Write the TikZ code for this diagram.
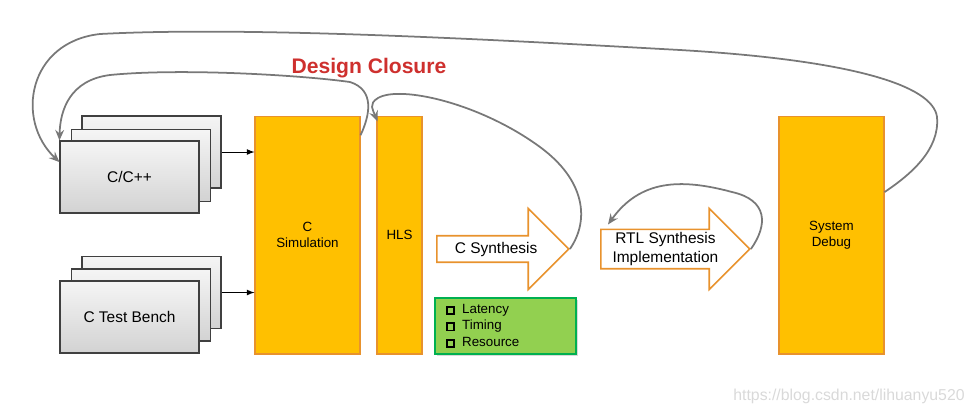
\documentclass[tikz,border=0pt]{standalone}
\usepackage{fontspec}
\setmainfont{Liberation Sans}
\usetikzlibrary{shapes.arrows,arrows.meta,calc,shadows}

\definecolor{hlsorange}{RGB}{255,192,0}
\definecolor{hlsedge}{RGB}{232,146,45}
\definecolor{loopgray}{RGB}{120,120,120}
\definecolor{closurered}{RGB}{206,48,46}
\definecolor{qorgreen}{RGB}{146,208,80}
\definecolor{qoredge}{RGB}{0,176,80}

\newcommand{\sqbox}{{\fboxsep=0pt\fboxrule=1pt\fbox{\rule{0pt}{3.2pt}\hspace{3.2pt}}}}

\begin{document}
\begin{tikzpicture}[x=0.02cm,y=-0.02cm,
    srcbox/.style={draw=black!75,line width=0.6pt,top color=gray!8,bottom color=gray!35,minimum width=2.78cm,minimum height=1.44cm,font=\fontsize{8.8}{10.5}\selectfont},
    stagebox/.style={draw=hlsedge,fill=hlsorange,line width=0.6pt,minimum width=2.1cm,minimum height=4.76cm,align=center,font=\fontsize{7.6}{9}\selectfont},
    flowarrow/.style={single arrow,draw=hlsedge,fill=white,line width=0.9pt,minimum height=2.64cm,minimum width=1.62cm,single arrow head extend=0.4cm,inner sep=1pt,align=center,font=\fontsize{8.8}{10.5}\selectfont},
    feedback/.style={draw=loopgray,line width=1pt,-{Stealth[length=6pt,width=5pt,inset=2pt]}}]
    \useasboundingbox (0,0) rectangle (974,414);
    \node[srcbox] (cppC) at (151.5,152) {};
    \node[srcbox] (cppB) at (141,165.5) {};
    \node[srcbox] (cppA) at (129.5,177) {C/C++};
    \node[srcbox] (tbC) at (151.5,292.5) {};
    \node[srcbox] (tbB) at (141,305) {};
    \node[srcbox] (tbA) at (129.5,317) {C Test Bench};
    \node[stagebox] (sim) at (307.5,235) {C\\Simulation};
    \node[stagebox,minimum width=0.9cm] (hls) at (399.5,235) {HLS};
    \node[stagebox] (sd) at (831.5,235) {System\\Debug};
    \draw[-latex,line width=0.5pt] (cppC.east) -- (sim.west |- cppC.east);
    \draw[-latex,line width=0.5pt] (tbC.east) -- (sim.west |- tbC.east);
    \node[flowarrow,anchor=tail] (csyn) at (436,249) {C Synthesis};
    \node[flowarrow,anchor=tail,minimum height=2.98cm] (rtl) at (600,249) {RTL Synthesis\\Implementation};
    \node[draw=qoredge,fill=qorgreen,line width=1.1pt,drop shadow={shadow xshift=1pt,shadow yshift=-1pt,opacity=0.3},minimum width=2.82cm,minimum height=1.08cm,text width=2.38cm,inner xsep=0.22cm,align=left,font=\fontsize{7.6}{9.35}\selectfont] (qor) at (505.5,326) {\sqbox\hspace{4pt}Latency\\\sqbox\hspace{4pt}Timing\\\sqbox\hspace{4pt}Resource};
    \node[text=closurered,font=\bfseries\fontsize{12}{14}\selectfont] (title) at (369,68) {Design Closure};
    \node[text=gray!30,font=\fontsize{9}{11}\selectfont] (mark) at (849,396) {https://blog.csdn.net/lihuanyu520};
    \draw[feedback] (sd.39) .. controls (910,175) and (940,150) .. (937,117) .. controls (933,85) and (850,60) .. (680,50) .. controls (500,40) and (250,26) .. (100,34) .. controls (28,42) and (15,120) .. (cppA.168);
    \draw[feedback] (sim.62) .. controls (370,115) and (375,90) .. (350,82) .. controls (300,75) and (180,68) .. (110,75) .. controls (70,80) and (60,110) .. (cppA.north west);
    \draw[feedback] (csyn.tip) .. controls (590,220) and (585,180) .. (540,147) .. controls (480,103) and (400,85) .. (378,98) .. controls (368,104) and (373,110) .. ($(hls.north west)+(1,6)$);
    \draw[feedback] (rtl.tip) .. controls (768,225) and (768,200) .. (732,192) .. controls (680,178) and (640,180) .. ($(rtl.after tail)+(8,-4)$);
\end{tikzpicture}
\end{document}
